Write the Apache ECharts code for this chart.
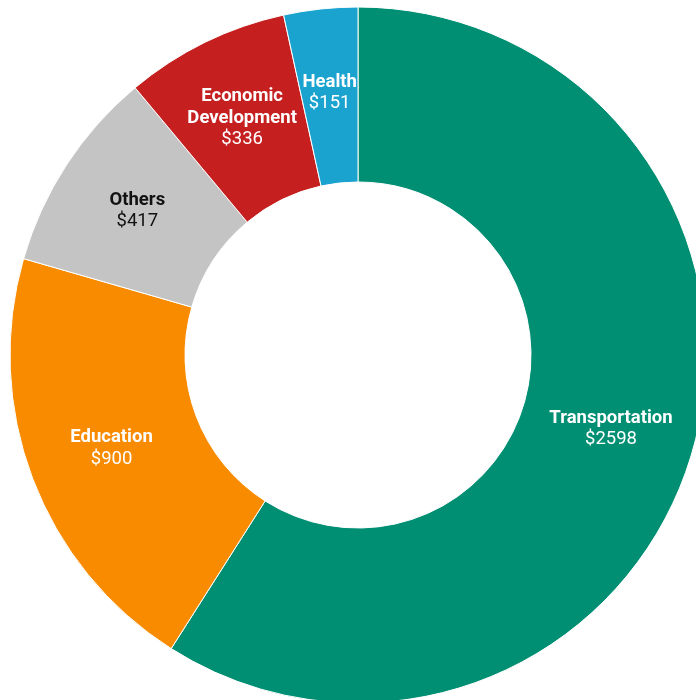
<!DOCTYPE html>
<html><head><meta charset="utf-8">
<script src="https://cdn.jsdelivr.net/npm/echarts@6/dist/echarts.min.js"></script>
<style>html,body{margin:0;padding:0;background:#fff}#c{width:696px;height:700px}</style>
</head><body><div id="c"></div>
<script>
const categories = ['Transportation', 'Education', 'Others', 'Economic\nDevelopment', 'Health'];
const values = [2598, 900, 417, 336, 151];
const colors = ['#008F72', '#F88B00', '#C4C4C4', '#C61F20', '#1BA3D0'];
const labelColors = ['#fff', '#fff', '#111', '#fff', '#fff'];

const chart = echarts.init(document.getElementById('c'));
chart.setOption({
  animation: false,
  series: [{
    type: 'pie',
    center: [358, 355],
    radius: [173, 348],
    startAngle: 90,
    clockwise: true,
    avoidLabelOverlap: false,
    itemStyle: { borderColor: '#fff', borderWidth: 1 },
    label: {
      position: 'inside',
      fontFamily: 'Roboto',
      fontSize: 18.5,
      lineHeight: 21.5,
      formatter: p => p.name.split('\n').map(s => '{b|' + s + '}').join('\n') + '\n{v|$' + p.value + '}'
    },
    labelLine: { show: false },
    data: categories.map((c, i) => ({
      name: c, value: values[i],
      itemStyle: { color: colors[i] },
      label: { rich: {
        b: { fontFamily: 'Roboto', fontWeight: 'bold', fontSize: 18.5, lineHeight: 21.5, color: labelColors[i] },
        v: { fontFamily: 'Roboto', fontSize: 18.5, lineHeight: 21.5, color: labelColors[i] }
      } }
    }))
  }]
});
</script></body></html>
